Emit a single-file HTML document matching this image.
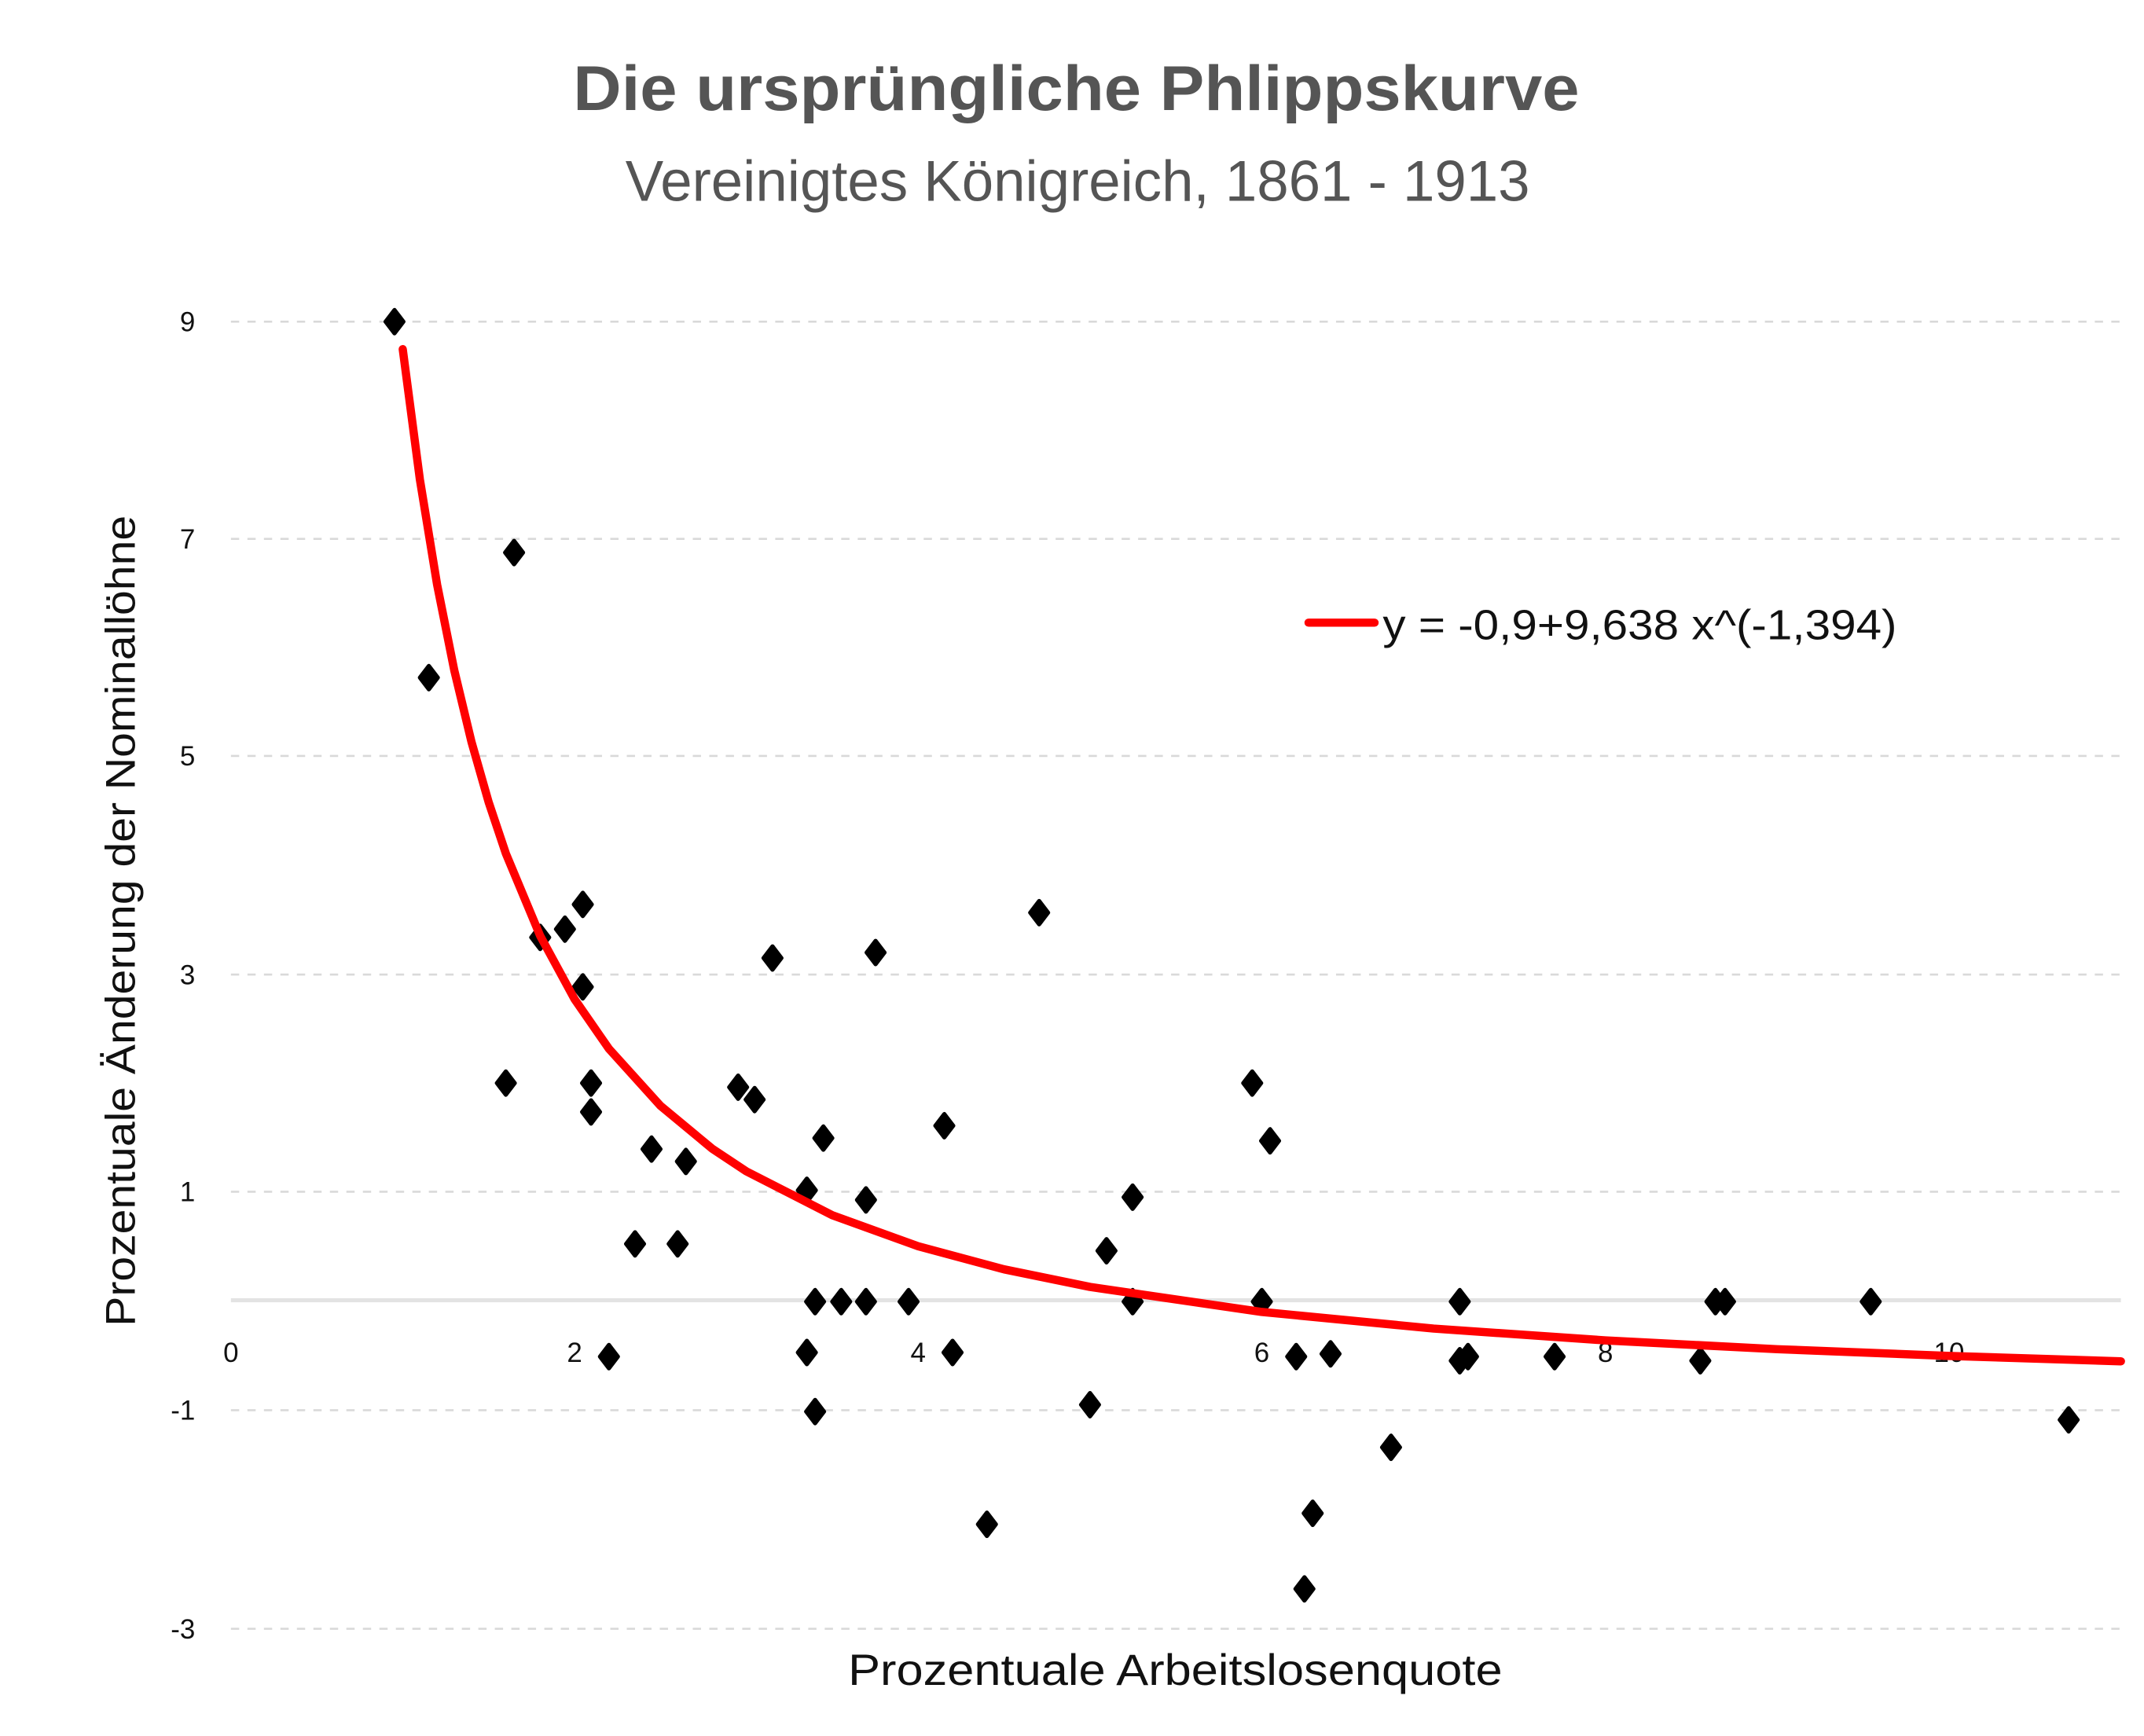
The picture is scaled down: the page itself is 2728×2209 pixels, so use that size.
<!DOCTYPE html>
<html><head><meta charset="utf-8"><style>html,body{margin:0;padding:0;background:#fff;}svg{display:block}</style></head>
<body>
<svg width="2728" height="2209" viewBox="0 0 1559.8 1263" xmlns="http://www.w3.org/2000/svg" font-family="'Liberation Sans', sans-serif">
<defs><path id="d" d="M0,-8.5 L6.5,0 L0,8.5 L-6.5,0 Z" fill="#000" stroke="#000" stroke-width="3" stroke-linejoin="round"/></defs>
<rect width="1559.8" height="1263" fill="#fff"/>
<text x="783" y="80" text-anchor="middle" font-size="46" font-weight="bold" fill="#555" textLength="732" lengthAdjust="spacingAndGlyphs">Die ursprüngliche Phlippskurve</text>
<text x="784" y="146" text-anchor="middle" font-size="42" fill="#555" textLength="658" lengthAdjust="spacingAndGlyphs">Vereinigtes Königreich, 1861 - 1913</text>
<g stroke="#d9d9d9" stroke-width="1.5" stroke-dasharray="6,6">
<line x1="168" x2="1543" y1="234" y2="234"/>
<line x1="168" x2="1543" y1="392" y2="392"/>
<line x1="168" x2="1543" y1="550" y2="550"/>
<line x1="168" x2="1543" y1="709" y2="709"/>
<line x1="168" x2="1543" y1="867" y2="867"/>
<line x1="168" x2="1543" y1="1026" y2="1026"/>
<line x1="168" x2="1543" y1="1185" y2="1185"/>
</g>
<line x1="168" x2="1543" y1="946" y2="946" stroke="#e3e3e3" stroke-width="3"/>
<g font-size="20" fill="#111" text-anchor="end">
<text x="142" y="241">9</text><text x="142" y="399">7</text><text x="142" y="557">5</text><text x="142" y="716">3</text><text x="142" y="874">1</text><text x="142" y="1033">-1</text><text x="142" y="1192">-3</text>
</g>
<g font-size="20" fill="#111" text-anchor="middle">
<text x="168" y="991">0</text><text x="418" y="991">2</text><text x="668" y="991">4</text><text x="918" y="991">6</text><text x="1168" y="991">8</text><text x="1418" y="991">10</text>
</g>
<text x="855" y="1226" text-anchor="middle" font-size="32" fill="#111" textLength="476" lengthAdjust="spacingAndGlyphs">Prozentuale Arbeitslosenquote</text>
<text transform="translate(98,670) rotate(-90)" text-anchor="middle" font-size="30" fill="#111" textLength="590" lengthAdjust="spacingAndGlyphs">Prozentuale Änderung der Nominallöhne</text>
<use href="#d" x="287" y="234"/><use href="#d" x="312" y="493"/><use href="#d" x="374" y="402"/>
<use href="#d" x="393" y="682"/><use href="#d" x="411" y="676"/><use href="#d" x="424" y="658"/>
<use href="#d" x="424" y="718"/><use href="#d" x="368" y="788"/><use href="#d" x="430" y="788"/>
<use href="#d" x="430" y="809"/><use href="#d" x="443" y="987"/><use href="#d" x="462" y="905"/>
<use href="#d" x="474" y="836"/><use href="#d" x="493" y="905"/><use href="#d" x="499" y="845"/>
<use href="#d" x="537" y="791"/><use href="#d" x="549" y="800"/><use href="#d" x="562" y="697"/>
<use href="#d" x="587" y="866"/><use href="#d" x="587" y="984"/><use href="#d" x="593" y="947"/>
<use href="#d" x="593" y="1027"/><use href="#d" x="599" y="828"/><use href="#d" x="612" y="947"/>
<use href="#d" x="630" y="873"/><use href="#d" x="630" y="947"/><use href="#d" x="637" y="693"/>
<use href="#d" x="661" y="947"/><use href="#d" x="687" y="819"/><use href="#d" x="693" y="984"/>
<use href="#d" x="718" y="1109"/><use href="#d" x="756" y="664"/><use href="#d" x="793" y="1022"/>
<use href="#d" x="805" y="910"/><use href="#d" x="824" y="871"/><use href="#d" x="824" y="947"/>
<use href="#d" x="911" y="788"/><use href="#d" x="918" y="947"/><use href="#d" x="924" y="830"/>
<use href="#d" x="943" y="987"/><use href="#d" x="949" y="1156"/><use href="#d" x="955" y="1101"/>
<use href="#d" x="968" y="985"/><use href="#d" x="1012" y="1053"/><use href="#d" x="1062" y="947"/>
<use href="#d" x="1062" y="990"/><use href="#d" x="1068" y="987"/><use href="#d" x="1131" y="987"/>
<use href="#d" x="1237" y="990"/><use href="#d" x="1248" y="947"/><use href="#d" x="1255" y="947"/>
<use href="#d" x="1361" y="947"/><use href="#d" x="1505" y="1033"/>
<polyline fill="none" stroke="#ff0000" stroke-width="6" stroke-linejoin="round" stroke-linecap="round"
points="293,254 305.5,349 318,425.3 330.5,487.7 343,539.7 355.5,583.6 368,620.9 393,680.9 418,726.9 443,763 480.5,804.5 518,835.6 543,852.2 605.5,884.1 668,906.7 730.5,923.5 793,936.3 918,954.5 1043,966.6 1168,975.2 1293,981.6 1418,986.5 1543,990.4"/>
<line x1="952" x2="1000" y1="453" y2="453" stroke="#ff0000" stroke-width="6" stroke-linecap="round"/>
<text x="1006" y="465" font-size="31" fill="#111" textLength="374" lengthAdjust="spacingAndGlyphs">y = -0,9+9,638 x^(-1,394)</text>
</svg>
</body></html>
